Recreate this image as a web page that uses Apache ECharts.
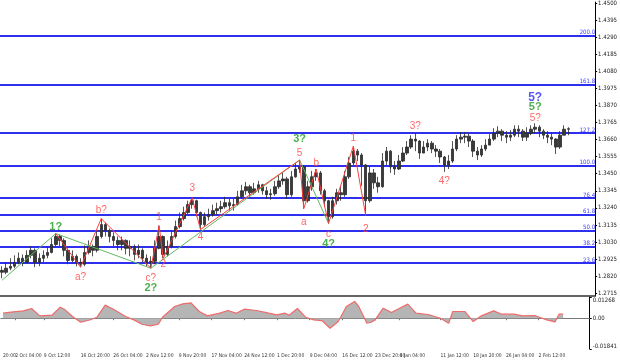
<!DOCTYPE html>
<html><head><meta charset="utf-8">
<script src="https://cdn.jsdelivr.net/npm/echarts@6/dist/echarts.min.js"></script>
<style>html,body{margin:0;padding:0;background:#fff}#c{width:620px;height:361px}</style>
</head><body><div id="c"></div>
<script>
// 16-hour candles [open, close, low, high]
const candles = [
[1.2856,1.2844,1.2807,1.2881],[1.2844,1.2869,1.2832,1.2905],[1.2869,1.2881,1.2856,1.2930],[1.2881,1.2905,1.2869,1.2948],
[1.2905,1.2930,1.2893,1.2966],[1.2930,1.2905,1.2881,1.2954],[1.2905,1.2948,1.2899,1.2979],[1.2948,1.2979,1.2930,1.3003],
[1.2979,1.2905,1.2875,1.2991],[1.2905,1.2930,1.2881,1.2960],[1.2930,1.2948,1.2905,1.2979],[1.2948,1.2966,1.2930,1.3003],
[1.2966,1.3015,1.2960,1.3052],[1.3015,1.3064,1.3003,1.3082],[1.3064,1.3040,1.3003,1.3076],[1.3040,1.2979,1.2942,1.3052],
[1.2979,1.2917,1.2893,1.2991],[1.2917,1.2942,1.2905,1.2979],[1.2942,1.2905,1.2881,1.2954],[1.2905,1.2893,1.2875,1.2930],
[1.2893,1.2966,1.2881,1.3009],[1.2966,1.3003,1.2954,1.3040],[1.3003,1.2979,1.2942,1.3015],[1.2979,1.3064,1.2966,1.3101],
[1.3064,1.3137,1.3052,1.3174],[1.3137,1.3101,1.3064,1.3150],[1.3101,1.3064,1.3027,1.3113],[1.3064,1.3040,1.3003,1.3089],
[1.3040,1.3015,1.2979,1.3064],[1.3015,1.3040,1.2979,1.3064],[1.3040,1.2991,1.2954,1.3046],[1.2991,1.3003,1.2942,1.3040],
[1.3003,1.2954,1.2917,1.3015],[1.2954,1.2979,1.2930,1.3015],[1.2979,1.2930,1.2905,1.2991],[1.2930,1.2905,1.2881,1.2954],
[1.2905,1.2911,1.2869,1.2942],[1.2911,1.2991,1.2893,1.3040],[1.2991,1.3064,1.2985,1.3131],[1.3064,1.2954,1.2930,1.3070],
[1.2954,1.3003,1.2942,1.3040],[1.3003,1.3064,1.2991,1.3101],[1.3064,1.3125,1.3052,1.3162],[1.3125,1.3174,1.3113,1.3211],
[1.3174,1.3211,1.3162,1.3247],[1.3211,1.3260,1.3199,1.3284],[1.3260,1.3284,1.3235,1.3302],[1.3284,1.3211,1.3186,1.3290],
[1.3211,1.3137,1.3107,1.3217],[1.3137,1.3186,1.3125,1.3211],[1.3186,1.3199,1.3162,1.3235],[1.3199,1.3223,1.3186,1.3260],
[1.3223,1.3235,1.3199,1.3272],[1.3235,1.3247,1.3211,1.3284],[1.3247,1.3272,1.3235,1.3308],[1.3272,1.3253,1.3223,1.3296],
[1.3253,1.3260,1.3223,1.3296],[1.3260,1.3308,1.3253,1.3345],[1.3308,1.3345,1.3296,1.3382],[1.3345,1.3370,1.3321,1.3400],
[1.3370,1.3333,1.3308,1.3382],[1.3333,1.3357,1.3321,1.3394],[1.3357,1.3382,1.3333,1.3406],[1.3382,1.3345,1.3321,1.3388],
[1.3345,1.3321,1.3296,1.3370],[1.3321,1.3327,1.3290,1.3357],[1.3327,1.3370,1.3315,1.3406],[1.3370,1.3406,1.3357,1.3443],
[1.3406,1.3418,1.3382,1.3455],[1.3418,1.3321,1.3296,1.3431],[1.3321,1.3431,1.3308,1.3467],[1.3431,1.3479,1.3425,1.3516],
[1.3479,1.3492,1.3455,1.3534],[1.3492,1.3284,1.3235,1.3504],[1.3284,1.3370,1.3272,1.3406],[1.3370,1.3431,1.3345,1.3467],
[1.3431,1.3455,1.3406,1.3479],[1.3455,1.3345,1.3321,1.3467],[1.3345,1.3284,1.3247,1.3357],[1.3284,1.3186,1.3144,1.3290],
[1.3186,1.3284,1.3174,1.3308],[1.3284,1.3333,1.3260,1.3357],[1.3333,1.3321,1.3284,1.3370],[1.3321,1.3431,1.3308,1.3467],
[1.3431,1.3516,1.3418,1.3553],[1.3516,1.3589,1.3504,1.3620],[1.3589,1.3565,1.3528,1.3602],[1.3565,1.3504,1.3376,1.3577],
[1.3504,1.3284,1.3192,1.3510],[1.3284,1.3455,1.3272,1.3492],[1.3455,1.3394,1.3357,1.3479],[1.3394,1.3370,1.3333,1.3431],
[1.3370,1.3528,1.3364,1.3577],[1.3528,1.3589,1.3504,1.3614],[1.3589,1.3492,1.3455,1.3596],[1.3492,1.3479,1.3443,1.3528],
[1.3479,1.3528,1.3473,1.3565],[1.3528,1.3577,1.3522,1.3614],[1.3577,1.3614,1.3565,1.3651],[1.3614,1.3663,1.3602,1.3687],
[1.3663,1.3651,1.3589,1.3699],[1.3651,1.3577,1.3541,1.3657],[1.3577,1.3614,1.3577,1.3651],[1.3614,1.3638,1.3589,1.3663],
[1.3638,1.3602,1.3577,1.3651],[1.3602,1.3589,1.3553,1.3626],[1.3589,1.3553,1.3516,1.3602],[1.3553,1.3504,1.3461,1.3559],
[1.3504,1.3528,1.3479,1.3565],[1.3528,1.3602,1.3516,1.3651],[1.3602,1.3663,1.3589,1.3687],[1.3663,1.3675,1.3638,1.3706],
[1.3675,1.3681,1.3638,1.3706],[1.3681,1.3651,1.3614,1.3699],[1.3651,1.3589,1.3553,1.3663],[1.3589,1.3565,1.3534,1.3614],
[1.3565,1.3602,1.3553,1.3626],[1.3602,1.3626,1.3589,1.3663],[1.3626,1.3663,1.3626,1.3693],[1.3663,1.3699,1.3651,1.3730],
[1.3699,1.3712,1.3675,1.3742],[1.3712,1.3687,1.3651,1.3724],[1.3687,1.3675,1.3638,1.3712],[1.3675,1.3687,1.3651,1.3718],
[1.3687,1.3724,1.3675,1.3748],[1.3724,1.3712,1.3675,1.3748],[1.3712,1.3675,1.3651,1.3724],[1.3675,1.3699,1.3651,1.3736],
[1.3699,1.3724,1.3687,1.3748],[1.3724,1.3736,1.3699,1.3761],[1.3736,1.3712,1.3675,1.3748],[1.3712,1.3687,1.3663,1.3724],
[1.3687,1.3675,1.3638,1.3712],[1.3675,1.3663,1.3626,1.3699],[1.3663,1.3614,1.3571,1.3669],[1.3614,1.3687,1.3602,1.3712],
[1.3687,1.3724,1.3687,1.3748],[1.3724,1.3727,1.3687,1.3736]
];
const nCats = 144;
const lastPrice = 1.3727;

const priceTicks = [1.2715,1.2820,1.2925,1.3030,1.3135,1.3240,1.3345,1.3450,1.3555,1.3660,1.3765,1.3870,1.3975,1.4080,1.4185,1.4290,1.4395,1.4500];
const timeTickIdx = [0,3,10,19,27,35,43,51,59,67,75,83,91,97,107,115,123,131];
const timeTickLabels = ['20:00','2 Oct 04:00','9 Oct 12:00','16 Oct 20:00','26 Oct 04:00','2 Nov 12:00','9 Nov 20:00','17 Nov 04:00','24 Nov 12:00','1 Dec 20:00','9 Dec 04:00','16 Dec 12:00','23 Dec 20:00','4 Jan 04:00','11 Jan 12:00','18 Jan 20:00','26 Jan 04:00','2 Feb 12:00'];

const fibLevels = [23.6,38.2,50.0,61.8,76.4,100.0,127.2,161.8,200.0];
const fib0 = 1.2673, fib100 = 1.3480;

const redWave = [[13,1.3082],[19,1.2875],[24,1.3174],[36,1.2869],[38,1.3131],[39,1.2930],[46,1.3302],[48,1.3107],[72,1.3534],[73,1.3235],[76,1.3479],[79,1.3144],[85,1.3620],[88,1.3192]];
const greenWave = [[0,1.2795],[13,1.3082],[36,1.2869],[72,1.3534],[79,1.3144]];

const redLabels = [[19,1.2814,'a?'],[24,1.3223,'b?'],[36,1.2807,'c?'],[38,1.3180,'1'],[39,1.2893,'2'],[46,1.3363,'3'],[48,1.3058,'4'],[72,1.3577,'5'],[73,1.3150,'a'],[76,1.3516,'b'],[79,1.3076,'c'],[85,1.3669,'1'],[88,1.3107,'2'],[100,1.3742,'3?'],[107,1.3406,'4?'],[129,1.3791,'5?']];
const greenLabels = [[13,1.3125,'1?'],[36,1.2746,'2?'],[72,1.3663,'3?'],[79,1.3021,'4?'],[129,1.3858,'5?']];
const blueLabels = [[129,1.3919,'5?']];

const oscIdx = [0,2,5,7,9,12,14,15,17,19,21,23,25,27,30,32,34,36,38,39,42,44,46,48,50,53,55,57,59,62,65,67,69,70,72,74,76,78,80,82,84,86,87,89,90,91,93,95,97,99,101,104,107,109,110,113,115,117,120,122,125,127,130,133,135,136,137];
const oscVals = [0.0030,0.0036,0.0044,0.0058,0.0014,0.0018,0.0066,0.0054,0.0010,-0.0024,-0.0012,0.0006,0.0078,0.0054,0.0010,-0.0010,-0.0036,-0.0046,-0.0036,0.0006,0.0070,0.0086,0.0092,0.0040,0.0014,0.0030,0.0046,0.0030,0.0054,0.0046,0.0030,0.0020,0.0030,0.0018,0.0058,0.0006,-0.0010,-0.0014,-0.0060,-0.0020,0.0070,0.0100,0.0070,-0.0030,-0.0024,-0.0010,0.0060,0.0034,0.0060,0.0084,0.0030,0.0022,0.0000,-0.0030,0.0040,0.0040,-0.0020,0.0014,0.0044,0.0024,0.0024,0.0014,0.0016,-0.0010,-0.0022,0.0024,0.0024];
const oscTicks = [-0.01841, 0, 0.01268];

const xCats = [];
for (let i = 0; i < nCats; i++) xCats.push('c' + i);
const labelByCat = {};
timeTickIdx.forEach((k, j) => { labelByCat['c' + k] = timeTickLabels[j]; });
const firstTick = timeTickIdx[0];
const isTick = (idx) => idx !== firstTick && timeTickIdx.indexOf(idx) >= 0;

const oscData = oscIdx.map((k, j) => [k, oscVals[j]]);
const FONT = 'Liberation Sans';
const NARROW = '"Liberation Sans Narrow", "DejaVu Sans Condensed", "Liberation Sans"';

const fibMarks = fibLevels.map(l => ({
  yAxis: fib0 + (fib100 - fib0) * l / 100,
  name: l.toFixed(1)
}));
fibMarks.push({
  yAxis: lastPrice, name: 'last',
  lineStyle: { opacity: 0 },
  label: { show: true, position: 'end', distance: 2, formatter: lastPrice.toFixed(4), backgroundColor: '#000', color: '#fff', fontSize: 6, fontFamily: NARROW, padding: [1, 3, 1, 2] }
});

function labelSeries(arr, color, size, weight) {
  return {
    type: 'scatter', xAxisIndex: 0, yAxisIndex: 0, z: 6,
    symbol: 'circle', symbolSize: 1, itemStyle: { color: 'rgba(0,0,0,0)' },
    data: arr.map(d => ({ value: [d[0], d[1]], name: d[2] })),
    label: { show: true, position: 'inside', formatter: '{b}', color: color, fontSize: size, fontWeight: weight, fontFamily: FONT }
  };
}

const xLabelStyle = { align: 'left', fontSize: 5, color: '#333', margin: 4, fontFamily: NARROW, hideOverlap: false, showMinLabel: true, showMaxLabel: true, formatter: (v) => labelByCat[v] || '' };

const chart = echarts.init(document.getElementById('c'), null, { renderer: 'canvas' });
chart.setOption({
  animation: false,
  backgroundColor: '#fff',
  grid: [
    { left: 0, top: 0, width: 599, height: 296 },
    { left: 0, top: 297, width: 599, height: 52 }
  ],
  xAxis: [
    { type: 'category', gridIndex: 0, position: 'bottom', data: xCats, boundaryGap: true,
      axisLine: { show: true, lineStyle: { color: '#333', width: 1.5 } },
      axisTick: { show: false }, axisLabel: { show: false }, splitLine: { show: false } },
    { type: 'category', gridIndex: 1, position: 'bottom', data: xCats, boundaryGap: true,
      axisLine: { show: true, lineStyle: { color: '#777', width: 1 } },
      axisTick: { show: true, alignWithLabel: true, interval: (i) => isTick(i), length: 2, lineStyle: { color: '#777' } },
      axisLabel: Object.assign({ show: true, interval: (i) => isTick(i) }, xLabelStyle),
      splitLine: { show: false } },
    { type: 'category', gridIndex: 1, position: 'bottom', offset: 0, data: xCats, boundaryGap: true,
      axisLine: { show: false }, axisTick: { show: false },
      axisLabel: Object.assign({ show: true, interval: (i) => i === firstTick }, xLabelStyle),
      splitLine: { show: false } }
  ],
  yAxis: [
    { type: 'value', gridIndex: 0, position: 'right', min: 1.2698, max: 1.4506, scale: true,
      splitLine: { show: false },
      axisLine: { show: true, lineStyle: { color: '#000', width: 1 } },
      axisTick: { show: true, customValues: priceTicks, length: 2, lineStyle: { color: '#000' } },
      axisLabel: { show: true, customValues: priceTicks, formatter: (v) => v.toFixed(4), fontSize: 6, color: '#222', margin: 3, fontFamily: NARROW } },
    { type: 'value', gridIndex: 1, position: 'right', min: -0.01841, max: 0.01268,
      splitLine: { show: false },
      axisLine: { show: true, lineStyle: { color: '#000', width: 1 } },
      axisTick: { show: true, customValues: oscTicks, length: 2, lineStyle: { color: '#000' } },
      axisLabel: { show: true, customValues: oscTicks, fontSize: 6, color: '#222', margin: 3, fontFamily: NARROW,
        formatter: (v) => v === 0 ? '0.00' : (v > 0 ? '{t|' + v.toFixed(5) + '}' : '{b|' + v.toFixed(5) + '}'),
        rich: { t: { fontSize: 6, padding: [6, 0, 0, 0], fontFamily: NARROW, color: '#222' }, b: { fontSize: 6, padding: [0, 0, 5, 0], fontFamily: NARROW, color: '#222' } } } }
  ],
  series: [
    { type: 'candlestick', xAxisIndex: 0, yAxisIndex: 0, z: 2, barWidth: 3,
      data: candles,
      itemStyle: { color: '#3a3a3a', color0: '#3a3a3a', borderColor: '#2a2a2a', borderColor0: '#2a2a2a', borderWidth: 0.8 },
      markLine: { silent: true, symbol: 'none', z: 1, animation: false,
        lineStyle: { color: '#2f2ff0', width: 2, type: 'solid' },
        label: { show: true, position: 'insideEndTop', formatter: '{b}', color: '#3a3aff', fontSize: 6, distance: 0, fontFamily: NARROW },
        emphasis: { disabled: true },
        data: fibMarks } },
    { type: 'line', xAxisIndex: 0, yAxisIndex: 0, z: 4, symbol: 'none', data: greenWave,
      lineStyle: { color: '#62b862', width: 1 } },
    { type: 'line', xAxisIndex: 0, yAxisIndex: 0, z: 5, symbol: 'none', data: redWave,
      lineStyle: { color: '#ff3d3d', width: 1 } },
    labelSeries(redLabels, '#ff4040', 10, 'normal'),
    labelSeries(greenLabels, '#1f9a1f', 11, 'bold'),
    labelSeries(blueLabels, '#2d2df0', 12, 'bold'),
    { type: 'line', xAxisIndex: 1, yAxisIndex: 1, z: 2, symbol: 'none', data: oscData,
      lineStyle: { width: 0 }, areaStyle: { color: '#b5b5b5', opacity: 1 } },
    { type: 'line', xAxisIndex: 1, yAxisIndex: 1, z: 3, symbol: 'none', data: oscData,
      lineStyle: { color: '#ee6b6b', width: 1.2 } }
  ]
});
</script>
</body></html>
